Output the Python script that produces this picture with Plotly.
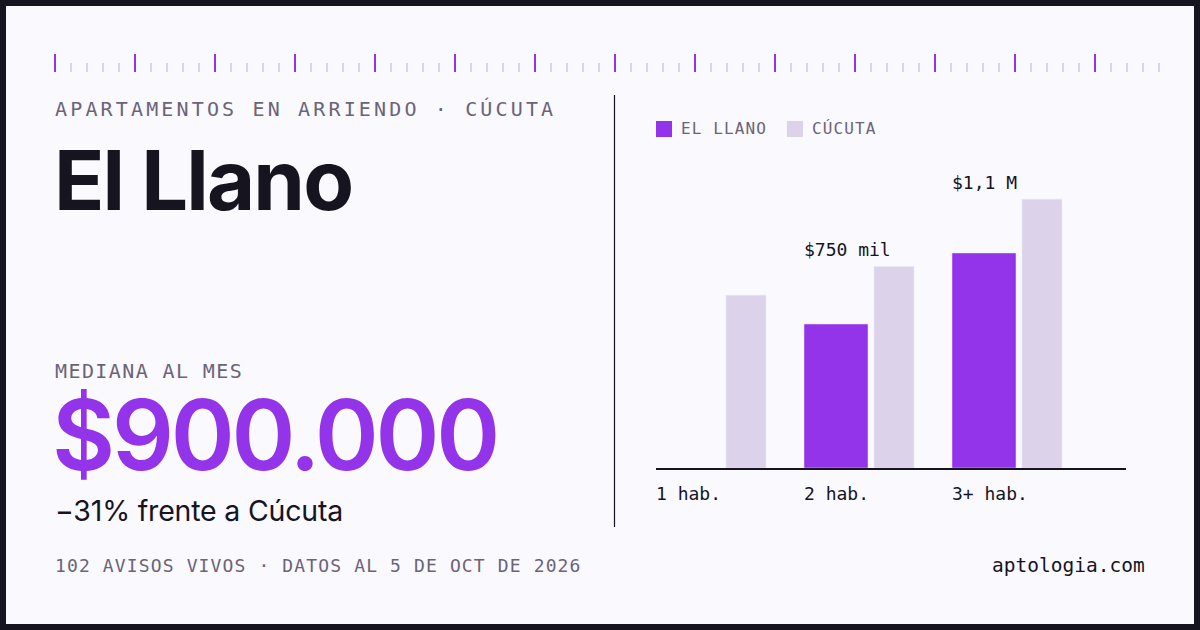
import plotly.graph_objects as go

# ---- data ----
categories = ["1 hab.", "2 hab.", "3+ hab."]
el_llano = [None, 750000, 1120000]
cucuta = [900000, 1050000, 1400000]
value_labels = [None, "$750 mil", "$1,1 M"]
series_names = ["EL LLANO", "CÚCUTA"]

PURPLE = "#9333ea"
LAV = "#dcd3ea"
DARK = "#16141e"
GRAY = "#6b6478"
BG = "#faf9fe"

W, H = 1200, 630
def px(x): return x / W
def py(y): return 1 - y / H

MONO = "DejaVu Sans Mono"
SANS = "Inter"

fig = go.Figure()
xs = list(range(len(categories)))
unit = 148.0  # px per category
fig.add_trace(go.Bar(x=xs, y=el_llano, name=series_names[0], marker_color=PURPLE,
                     offset=0, width=64 / unit, hoverinfo="skip"))
fig.add_trace(go.Bar(x=xs, y=cucuta, name=series_names[1], marker_color=LAV,
                     offset=70 / unit, width=40 / unit, hoverinfo="skip"))

shapes = []
# frame
shapes.append(dict(type="rect", xref="paper", yref="paper", x0=px(6), x1=px(1194), y0=py(624), y1=py(6),
                   fillcolor=BG, line=dict(width=0), layer="below"))
# ruler
for i in range(70):
    x = 55 + 16 * i
    major = i % 5 == 0
    shapes.append(dict(type="line", xref="paper", yref="paper", x0=px(x), x1=px(x),
                       y0=py(72), y1=py(54 if major else 63),
                       line=dict(color=PURPLE if major else LAV, width=2)))
# divider
shapes.append(dict(type="line", xref="paper", yref="paper", x0=px(614.5), x1=px(614.5),
                   y0=py(527), y1=py(95), line=dict(color=DARK, width=1.2)))
# legend squares
for (x0, col) in [(656, PURPLE), (787, LAV)]:
    shapes.append(dict(type="rect", xref="paper", yref="paper", x0=px(x0), x1=px(x0 + 16),
                       y0=py(137), y1=py(121), fillcolor=col, line=dict(width=0)))

ann = []
def text(x, y, t, size, color, family, xanchor="left", spacing=None, weight=None, height=None):
    if spacing is not None:
        t = f'<span style="letter-spacing:{spacing}px">{t}</span>'
    f = dict(size=size, color=color, family=family)
    if weight:
        f["weight"] = weight
    a = dict(x=px(x), y=py(y), xref="paper", yref="paper", text=t, showarrow=False,
             xanchor=xanchor, yanchor="middle", font=f)
    if height:
        a["height"] = height
    ann.append(a)

text(53, 109, "APARTAMENTOS EN ARRIENDO · CÚCUTA", 20, GRAY, MONO, spacing=3.15)
text(52, 180, "El Llano", 83, DARK, SANS, spacing=-1.8, weight=700)
text(53, 371, "MEDIANA AL MES", 20, GRAY, MONO, spacing=1.4)
text(50, 434, "$900.000", 97, PURPLE, SANS, spacing=-3.2, weight=600, height=100)
text(53, 510, "−31% frente a Cúcuta", 28.5, DARK, SANS, spacing=-0.2)
text(53, 565, "102 AVISOS VIVOS · DATOS AL 5 DE OCT DE 2026", 18, GRAY, MONO, spacing=1.13)
text(1147, 565, "aptologia.com", 19.5, DARK, MONO, xanchor="right")
text(679, 129, series_names[0], 16, GRAY, MONO, spacing=1.1)
text(810, 129, series_names[1], 16, GRAY, MONO, spacing=1.1)

for i, c in enumerate(categories):
    ann.append(dict(x=i, y=0, xref="x", yref="y", text=c, showarrow=False, xanchor="left",
                    yanchor="middle", yshift=-25, xshift=-2, font=dict(size=18, color=DARK, family=MONO)))
    if value_labels[i]:
        top = max(v for v in (el_llano[i], cucuta[i]) if v is not None)
        ann.append(dict(x=i, y=top, xref="x", yref="y", text=value_labels[i], showarrow=False,
                        xanchor="left", yanchor="middle", yshift=17, xshift=-2,
                        font=dict(size=18, color=DARK, family=MONO)))

fig.update_layout(
    width=W, height=H, autosize=False,
    margin=dict(l=0, r=0, t=0, b=0),
    paper_bgcolor=DARK, plot_bgcolor="rgba(0,0,0,0)",
    showlegend=False, barmode="overlay",
    shapes=shapes, annotations=ann,
    xaxis=dict(domain=[px(656), px(1126)], range=[0, 470 / unit], showgrid=False, zeroline=False,
               showticklabels=False, ticks="", showline=True, linecolor=DARK, linewidth=1.5),
    yaxis=dict(domain=[py(468), py(180)], range=[0, 1.5e6], showgrid=False, zeroline=False,
               showticklabels=False, ticks="", showline=False),
)

fig.write_html("out.html")
